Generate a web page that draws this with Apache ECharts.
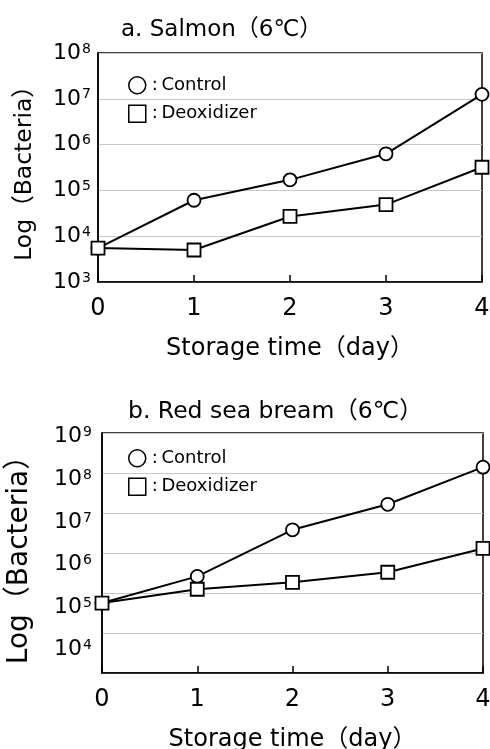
<!DOCTYPE html>
<html>
<head>
<meta charset="utf-8">
<script src="https://cdn.jsdelivr.net/npm/echarts@6/dist/echarts.min.js"></script>
<style>
  html, body { margin: 0; padding: 0; background: #fff; }
  #chart { width: 490px; height: 749px; }
</style>
</head>
<body>
<div id="chart"></div>
<script>
// Storage days on the x axis
const days = [0, 1, 2, 3, 4];

// Viable bacteria counts (CFU) per storage day, salmon at 6 °C
const salmonControl    = [5.5e3, 6.1e4, 1.7e5, 6.3e5, 1.25e7];
const salmonDeoxidizer = [5.5e3, 5.0e3, 2.7e4, 4.9e4, 3.2e5];

// Viable bacteria counts (CFU) per storage day, red sea bream at 6 °C
const breamControl    = [5.6e4, 2.6e5, 3.8e6, 1.65e7, 1.4e8];
const breamDeoxidizer = [5.6e4, 1.24e5, 1.85e5, 3.3e5, 1.3e6];

// Log-axis ranges (powers of ten)
const salmonRange = [1e3, 1e8];
const breamRange  = [1e3, 1e9];
// Range of the tick-label scale used beside the red sea bream panel
const breamLabelRange = [Math.pow(10, 3.453), Math.pow(10, 9.087)];

const titles = ['a. Salmon（6℃）', 'b. Red sea bream（6℃）'];
const seriesNames = ['Control', 'Deoxidizer'];
const xTitle = 'Storage time（day）';
const yTitle = 'Log（Bacteria）';

const FONT = '"DejaVu Sans", "Noto Sans CJK JP", sans-serif';

function pair(xs, ys) { return xs.map((x, i) => [x, ys[i]]); }

function powLabel(v) {
  const e = Math.log10(v);
  if (Math.abs(e - Math.round(e)) > 1e-6) return '';
  return '{b|10}{s|' + Math.round(e) + '}';
}

function powRich(size, supSize) {
  return {
    b: { fontSize: size, fontFamily: FONT, color: '#000', verticalAlign: 'middle' },
    s: { fontSize: supSize, fontFamily: FONT, color: '#000', verticalAlign: 'top', padding: [0, 0, 4, 1] }
  };
}

function xAxisFor(gridIndex) {
  return {
    type: 'value', gridIndex, min: 0, max: 4, interval: 1,
    name: xTitle, nameLocation: 'middle', nameGap: 55,
    nameTextStyle: { fontSize: 24, fontFamily: FONT, color: '#000' },
    axisLine: { lineStyle: { color: '#000', width: 1.5 } },
    axisTick: { inside: true, length: 7, lineStyle: { color: '#000', width: 1.5 } },
    axisLabel: { fontSize: 24, fontFamily: FONT, color: '#000', margin: 15 },
    splitLine: { show: false }
  };
}

function lineSeries(name, symbol, xi, yi, data) {
  return {
    name, type: 'line', xAxisIndex: xi, yAxisIndex: yi, data,
    symbol, symbolSize: 13,
    lineStyle: { color: '#000', width: 2 },
    itemStyle: { color: '#fff', borderColor: '#000', borderWidth: 1.8 },
    emphasis: { disabled: true },
    animation: false
  };
}

function legendFor(top) {
  return {
    left: 128, top, orient: 'vertical', padding: 0, itemGap: 10,
    itemWidth: 17, itemHeight: 17, selectedMode: false,
    formatter: n => ':\u2009' + n,
    textStyle: { fontSize: 18, fontFamily: FONT, color: '#000', padding: [0, 0, 0, 1] },
    data: [
      { name: seriesNames[0], icon: 'circle', itemStyle: { color: '#fff', borderColor: '#000', borderWidth: 1.5 } },
      { name: seriesNames[1], icon: 'rect', itemStyle: { color: '#fff', borderColor: '#000', borderWidth: 1.5 } }
    ]
  };
}

const chart = echarts.init(document.getElementById('chart'), null, { renderer: 'canvas' });

chart.setOption({
  backgroundColor: '#fff',
  animation: false,
  title: [
    { text: titles[0], left: 121, top: 19, padding: 0, textStyle: { fontSize: 23, fontWeight: 'normal', fontFamily: FONT, color: '#000' } },
    { text: titles[1], left: 128, top: 400, padding: 0, textStyle: { fontSize: 23.5, fontWeight: 'normal', fontFamily: FONT, color: '#000' } }
  ],
  legend: [legendFor(76), legendFor(449)],
  grid: [
    { left: 98, right: 8, top: 53, height: 229, outerBoundsMode: 'none', containLabel: false,
      show: true, borderColor: '#000', borderWidth: 1.5 },
    { left: 102, right: 7, top: 433, height: 240, outerBoundsMode: 'none', containLabel: false,
      show: true, borderColor: '#000', borderWidth: 1.5 }
  ],
  xAxis: [xAxisFor(0), xAxisFor(1)],
  yAxis: [
    {
      type: 'log', logBase: 10, gridIndex: 0, min: salmonRange[0], max: salmonRange[1],
      name: yTitle, nameLocation: 'middle', nameGap: 61,
      nameTextStyle: { fontSize: 23.5, fontFamily: FONT, color: '#000' },
      axisLine: { show: true, lineStyle: { color: '#000', width: 1.5 } },
      axisTick: { show: false },
      axisLabel: { formatter: powLabel, rich: powRich(22, 14), margin: 7 },
      splitLine: { show: true, lineStyle: { color: '#c8c8c8', width: 1 } }
    },
    {
      type: 'log', logBase: 10, gridIndex: 1, min: breamRange[0], max: breamRange[1],
      name: yTitle, nameLocation: 'middle', nameGap: 68,
      nameTextStyle: { fontSize: 28, fontFamily: FONT, color: '#000' },
      axisLine: { show: true, lineStyle: { color: '#000', width: 1.5 } },
      axisTick: { show: false },
      axisLabel: { show: false },
      splitLine: { show: true, lineStyle: { color: '#c8c8c8', width: 1 } }
    },
    {
      type: 'log', logBase: 10, gridIndex: 1, position: 'left',
      min: breamLabelRange[0], max: breamLabelRange[1],
      axisLine: { show: false }, axisTick: { show: false },
      axisLabel: { formatter: powLabel, rich: powRich(22, 14), margin: 10, showMinLabel: false, showMaxLabel: false },
      splitLine: { show: false }
    }
  ],
  series: [
    lineSeries(seriesNames[0], 'circle', 0, 0, pair(days, salmonControl)),
    lineSeries(seriesNames[1], 'rect', 0, 0, pair(days, salmonDeoxidizer)),
    lineSeries(seriesNames[0], 'circle', 1, 1, pair(days, breamControl)),
    lineSeries(seriesNames[1], 'rect', 1, 1, pair(days, breamDeoxidizer))
  ]
});
</script>
</body>
</html>
